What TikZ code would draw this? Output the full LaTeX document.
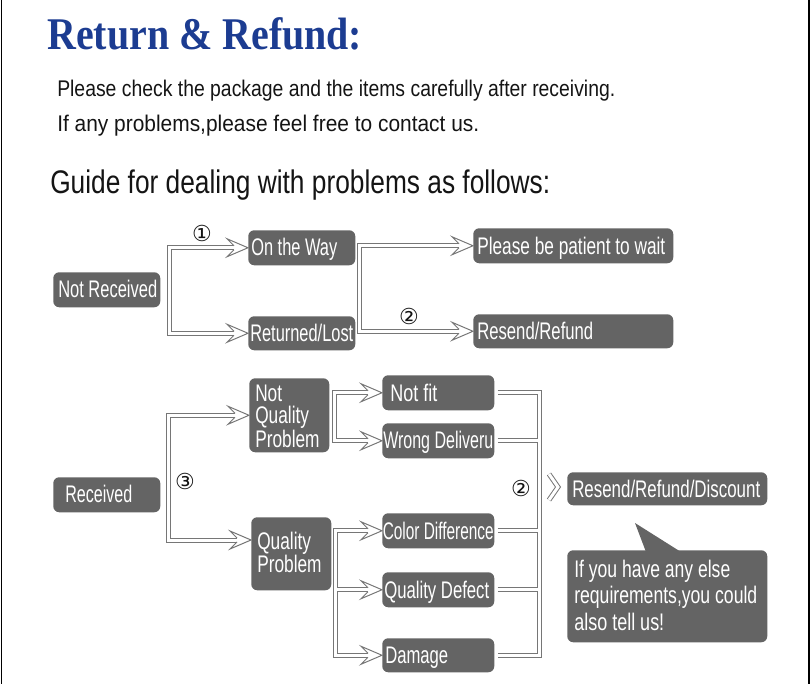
\documentclass[tikz,border=0pt]{standalone}
\usepackage{fontspec}
\usepackage{graphicx}
\setmainfont{Liberation Sans}
\newfontfamily\titlef{Liberation Serif}
\newfontfamily\nar[FakeStretch=0.72]{Liberation Sans}
\newfontfamily\circf{DejaVu Sans}
\usetikzlibrary{calc}
\newdimen\px \px=0.75pt
\newcommand\fitw[2]{\resizebox{#1\px}{\height}{#2}}
\definecolor{boxc}{RGB}{100,100,100}
\definecolor{pipec}{RGB}{118,118,118}
\definecolor{titleb}{RGB}{28,60,145}
\definecolor{ink}{RGB}{20,20,20}
\tikzset{
  box/.style={fill=boxc, rounded corners=6\px, inner sep=0pt, anchor=north west, draw=none},
  lbl/.style={text=white, inner sep=0pt, anchor=base west, font=\nar\fontsize{18}{21}\selectfont},
  hdr/.style={inner sep=0pt, anchor=base west, text=ink},
  num/.style={inner sep=0pt, text=ink, font=\circf\fontsize{16.5}{18}\selectfont},
  pipeo/.style={draw=pipec, line width=5\px, line join=miter},
  pipei/.style={draw=white, line width=3\px, line join=miter},
  ahd/.pic={
    \fill[white] (-14,-2)--(-21,-9)--(0,0)--(-21,9)--(-14,2)--cycle;
    \draw[pipec, line width=1\px, line join=miter] (-14,-2)--(-21,-9)--(0,0)--(-21,9)--(-14,2);
  }
}
\begin{document}
\begin{tikzpicture}[x=0.75pt,y=-0.75pt]
\useasboundingbox (0,0) rectangle (811,684);
% frame sides
\draw[black, line width=1.5\px] (1.5,0) -- (1.5,684);
\draw[black, line width=1.5\px] (809,0) -- (809,684);

% header
\node[hdr, text=titleb] (title) at (47,50) {\fitw{315}{\titlef\bfseries\fontsize{34}{38}\selectfont Return \& Refund:}};
\node[hdr] (l1) at (57,97) {\fitw{558}{\fontsize{17}{20}\selectfont Please check the package and the items carefully after receiving.}};
\node[hdr] (l2) at (57,132) {\fitw{422}{\fontsize{17}{20}\selectfont If any problems,please feel free to contact us.}};
\node[hdr] (l3) at (50,194) {\fitw{500}{\fontsize{24.5}{29}\selectfont Guide for dealing with problems as follows:}};

% boxes
\node[box, minimum width=107\px, minimum height=35\px] (nr) at (53,272) {};
\node[box, minimum width=107\px, minimum height=35\px] (ow) at (248,230) {};
\node[box, minimum width=107\px, minimum height=34\px] (rl) at (248,316) {};
\node[box, minimum width=200\px, minimum height=35\px] (pw) at (473,228) {};
\node[box, minimum width=200\px, minimum height=34\px] (rr) at (473,314) {};
\node[box, minimum width=107\px, minimum height=35\px] (rc) at (53,477) {};
\node[box, minimum width=80\px, minimum height=74\px] (nqp) at (249,378) {};
\node[box, minimum width=80\px, minimum height=73\px] (qp) at (251,517) {};
\node[box, minimum width=112\px, minimum height=35\px] (nf) at (382,375) {};
\node[box, minimum width=112\px, minimum height=35\px] (wd) at (382,423) {};
\node[box, minimum width=112\px, minimum height=35\px] (cd) at (382,513) {};
\node[box, minimum width=112\px, minimum height=35\px] (qd) at (382,572) {};
\node[box, minimum width=112\px, minimum height=34\px] (dm) at (382,638) {};
\node[box, minimum width=200\px, minimum height=33\px] (rrd) at (567,472) {};
\node[box, minimum width=200\px, minimum height=92\px] (bub) at (567,550) {};
\coordinate (tip) at (635,523);
\fill[boxc] ($(bub.north west)+(79,2)$) -- (tip) -- ($(bub.north west)+(114,2)$) -- cycle;

% labels
\node[lbl] (tnr) at (58,298) {\fitw{99}{Not Received}};
\node[lbl] (tow) at (251,256) {\fitw{86}{On the Way}};
\node[lbl] (trl) at (250,341.5) {\fitw{103}{Returned/Lost}};
\node[lbl] (tpw) at (477,254.5) {\fitw{188}{Please be patient to wait}};
\node[lbl] (trr) at (477,340) {\fitw{116}{Resend/Refund}};
\node[lbl] (trc) at (65,503) {\fitw{67}{Received}};
\node[lbl] (tnqp) at (255,402) {\vtop{\baselineskip=22\px\hbox{Not}\hbox{Quality}\hbox{Problem}}};
\node[lbl] (tqp) at (257,549) {\vtop{\baselineskip=23\px\hbox{Quality}\hbox{Problem}}};
\node[lbl] (tnf) at (390,401.5) {\fitw{47}{Not fit}};
\node[lbl] (twd) at (383,449) {\fitw{110}{Wrong Deliveru}};
\node[lbl] (tcd) at (382.5,539) {\fitw{111}{Color Difference}};
\node[lbl] (tqd) at (384,598) {\fitw{105}{Quality Defect}};
\node[lbl] (tdm) at (385,663) {\fitw{63}{Damage}};
\node[lbl] (trrd) at (572,497) {\fitw{188}{Resend/Refund/Discount}};
\node[lbl] (tbub) at (574,577) {\vtop{\baselineskip=26.5\px
  \hbox{\fitw{156}{If you have any else}}
  \hbox{\fitw{183}{requirements,you could}}
  \hbox{\fitw{90}{also tell us!}}}};

% numbers
\node[num] (n1) at (202,233) {①};
\node[num] (n2) at (409,316) {②};
\node[num] (n3) at (185,481) {③};
\node[num] (n4) at (521,488) {②};

% connector bars
\coordinate (b1) at (169.5,0);
\coordinate (b2) at (359.5,0);
\coordinate (b3) at (168.5,0);
\coordinate (b4) at (334.5,0);
\coordinate (b5) at (335.5,0);
\coordinate (b6) at (539.5,0);
\coordinate (qpin) at ($(qp.north west)+(0,23)$);
\coordinate (chA) at (549,474);
\coordinate (chB) at (558,487);
\coordinate (chC) at (549,500);

\foreach \st in {pipeo,pipei}{
  \draw[\st] ($(ow.west)+(-14,0)$) -- (b1 |- ow.west) -- (b1 |- rl.west) -- ($(rl.west)+(-14,0)$);
  \draw[\st] ($(pw.west)+(-14,0)$) -- (b2 |- pw.west) -- (b2 |- rr.west) -- ($(rr.west)+(-14,0)$);
  \draw[\st] ($(nqp.west)+(-14,0)$) -- (b3 |- nqp.west) -- (b3 |- qpin) -- ($(qpin)+(-14,0)$);
  \draw[\st] ($(nf.west)+(-14,0)$) -- (b4 |- nf.west) -- (b4 |- wd.west) -- ($(wd.west)+(-14,0)$);
  \draw[\st] ($(cd.west)+(-14,0)$) -- (b5 |- cd.west) -- (b5 |- dm.west) -- ($(dm.west)+(-14,0)$)
             (b5 |- qd.west) -- ($(qd.west)+(-14,0)$);
  \draw[\st] ($(nf.east)+(3,0)$) -- (b6 |- nf.east) -- (b6 |- dm.east) -- ($(dm.east)+(3,0)$)
             ($(wd.east)+(3,0)$) -- (b6 |- wd.east)
             ($(cd.east)+(3,0)$) -- (b6 |- cd.east)
             ($(qd.east)+(3,0)$) -- (b6 |- qd.east);
  \draw[\st] (chA) -- (chB) -- (chC);
}

% arrow heads
\pic at (ow.west) {ahd};
\pic at (rl.west) {ahd};
\pic at (pw.west) {ahd};
\pic at (rr.west) {ahd};
\pic at (nqp.west) {ahd};
\pic at (qpin) {ahd};
\pic at (nf.west) {ahd};
\pic at (wd.west) {ahd};
\pic at (cd.west) {ahd};
\pic at (qd.west) {ahd};
\pic at (dm.west) {ahd};
\end{tikzpicture}
\end{document}
